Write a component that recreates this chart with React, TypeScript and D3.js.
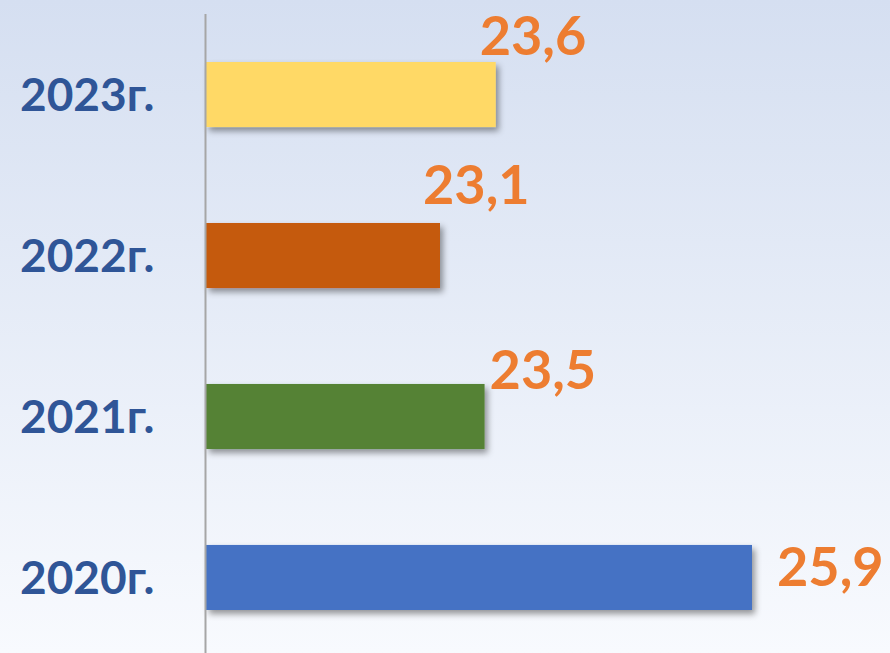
import React from "react";
import * as d3 from "d3";

const categories = ["2023г.", "2022г.", "2021г.", "2020г."];
const values = [23.6, 23.1, 23.5, 25.9];
const valueLabels = ["23,6", "23,1", "23,5", "25,9"];
const barColors = ["#FFD966", "#C55A11", "#548235", "#4472C4"];
const axisMin = 21;

// layout of value labels relative to bar end / bar top (manual placement as in the source)
const labelDx = [-16, -17, 5, 25];
const labelDy = [-7, -19, 5, 41];

const W = 890;
const H = 653;

export default function App() {
  const x = d3.scaleLinear().domain([axisMin, 25.9]).range([206, 752]);
  const y = d3
    .scaleBand<string>()
    .domain(categories)
    .range([62, 610])
    .paddingInner(0.596)
    .paddingOuter(0);

  return (
    <svg
      width={W}
      height={H}
      style={{ position: "absolute", left: 0, top: 0, display: "block" }}
      fontFamily="Lato, 'Open Sans', sans-serif"
    >
      <defs>
        <linearGradient id="bg" x1="0" y1="0" x2="0" y2="1">
          <stop offset="0" stopColor="#D5DFF1" />
          <stop offset="1" stopColor="#F8FAFE" />
        </linearGradient>
        <filter id="shadow" x="-10%" y="-20%" width="130%" height="160%">
          <feDropShadow dx="3" dy="4" stdDeviation="3" floodColor="#000" floodOpacity="0.4" />
        </filter>
      </defs>
      <rect x={0} y={0} width={W} height={H} fill="url(#bg)" />
      {categories.map((c, i) => {
        const y0 = y(c)!;
        const bw = y.bandwidth();
        return (
          <g key={c}>
            <rect
              x={x(axisMin)}
              y={y0}
              width={x(values[i]) - x(axisMin)}
              height={bw}
              fill={barColors[i]}
              filter="url(#shadow)"
            />
            <text
              x={20}
              y={y0 + bw / 2}
              dy="0.36em"
              fontSize={46}
              fontWeight={700}
              fill="#2F5597"
            >
              {c}
            </text>
            <text
              x={x(values[i]) + labelDx[i]}
              y={y0 + labelDy[i]}
              fontSize={54}
              fontWeight={700}
              fill="#ED7D31"
            >
              {valueLabels[i]}
            </text>
          </g>
        );
      })}
      <line x1={205.5} x2={205.5} y1={14} y2={H} stroke="#A6A6A6" strokeWidth={2} />
    </svg>
  );
}
